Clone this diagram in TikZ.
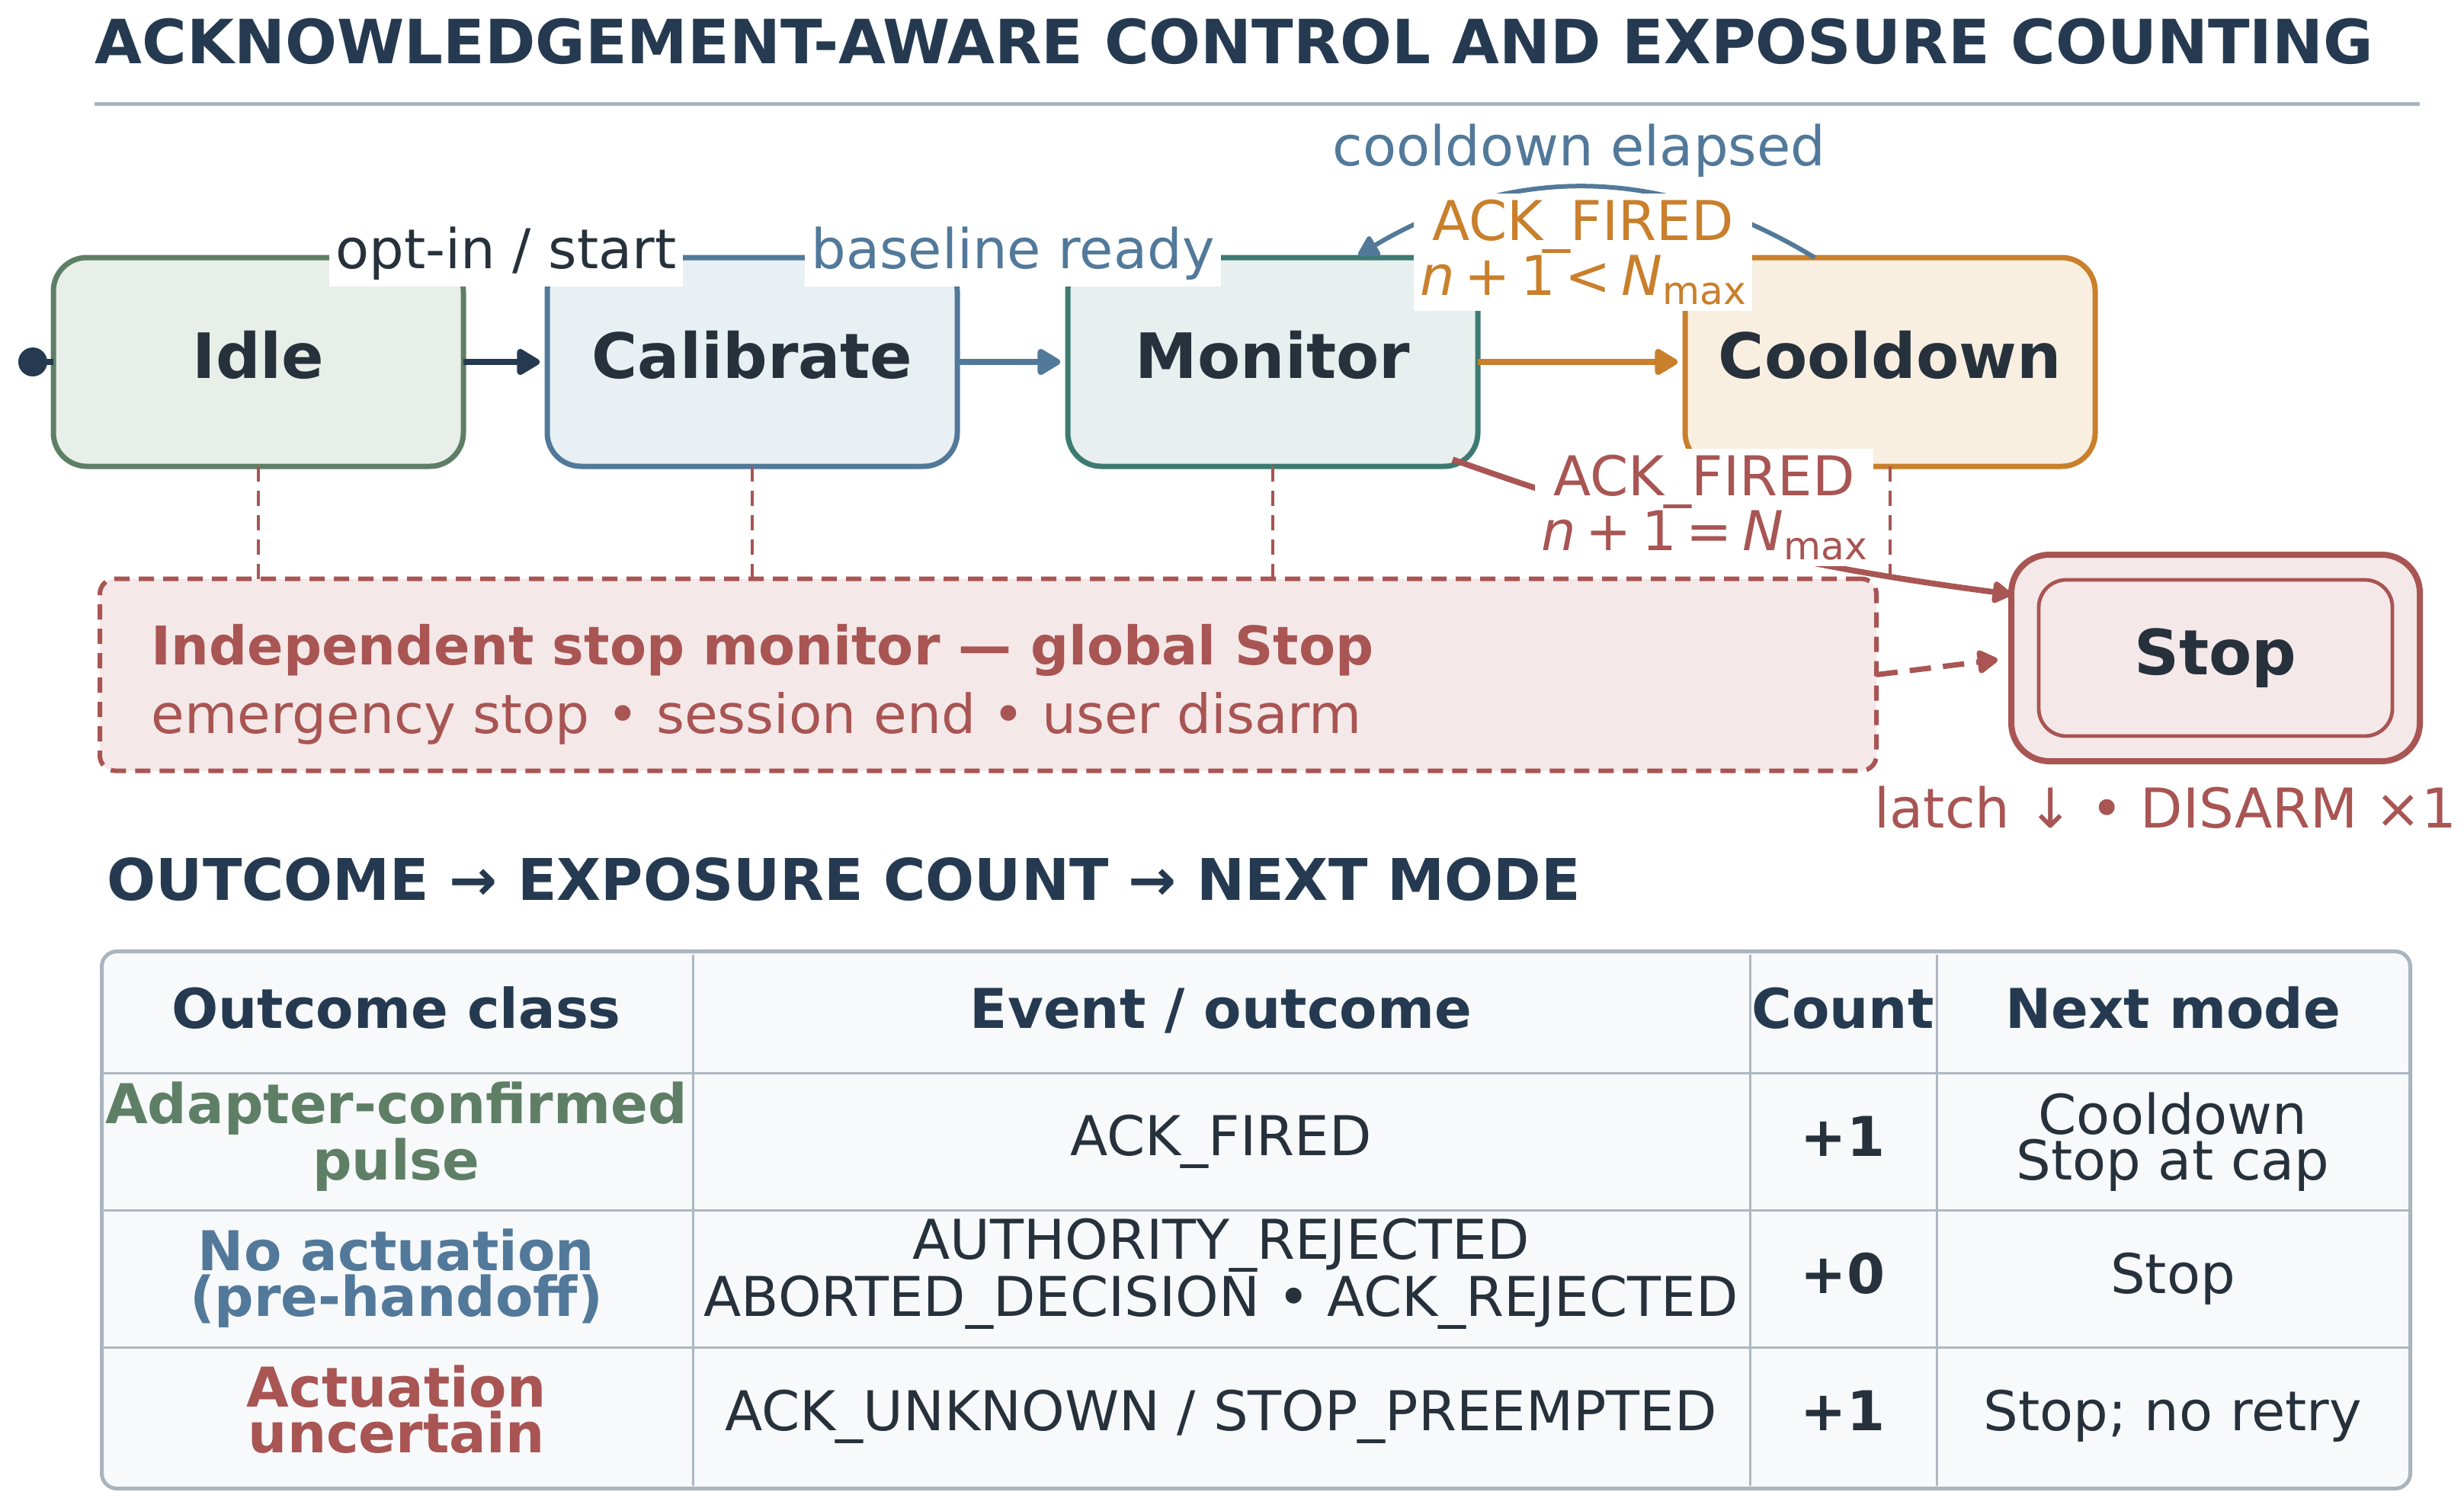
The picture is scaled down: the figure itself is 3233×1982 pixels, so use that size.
\documentclass[tikz,border=0pt]{standalone}
\usepackage{fontspec}
\setmainfont{DejaVu Sans}
\usetikzlibrary{arrows.meta,calc}
\definecolor{navy}{HTML}{253A50}
\definecolor{ink}{HTML}{27313C}
\definecolor{cgreen}{HTML}{5E7F65}
\definecolor{fgreen}{HTML}{E8EFE8}
\definecolor{cblue}{HTML}{52799A}
\definecolor{fblue}{HTML}{E8F0F4}
\definecolor{cteal}{HTML}{3D7B72}
\definecolor{fteal}{HTML}{E7F0EF}
\definecolor{corange}{HTML}{C97F2B}
\definecolor{forange}{HTML}{F9EFE1}
\definecolor{cred}{HTML}{A85553}
\definecolor{fred}{HTML}{F5E8E8}
\definecolor{rulegray}{HTML}{AAB4BE}
\definecolor{tblfill}{HTML}{F7F9FB}
\definecolor{tblline}{HTML}{AEB8C2}
\newcommand{\acklt}{\textit{n}\hspace{.18em}+\hspace{.18em}1\hspace{.18em}<\hspace{.18em}\textit{N}\raisebox{-3pt}{\fontsize{12.6}{12.6}\selectfont max}}
\newcommand{\ackeq}{\textit{n}\hspace{.18em}+\hspace{.18em}1\hspace{.18em}=\hspace{.18em}\textit{N}\raisebox{-3pt}{\fontsize{12.6}{12.6}\selectfont max}}
\begin{document}
\begin{tikzpicture}[x=0.25pt,y=-0.25pt,
  statebox/.style={draw, rounded corners=11pt, minimum width=134.5pt, minimum height=68.5pt,
    line width=1.75pt, outer sep=0pt, inner sep=0pt, text=ink, text height=15.6pt, text depth=4.7pt,
    font=\fontsize{20.5}{24}\selectfont\bfseries},
  lbl/.style={fill=white, inner sep=2pt, align=center, font=\fontsize{18}{18}\selectfont},
  arr/.style={line width=2.2pt, shorten >=2.5pt, -{Triangle[length=8.5pt,width=9.5pt,round]}},
  vdash/.style={cred, line width=0.8pt, dash pattern=on 5pt off 3pt},
  th/.style={anchor=base, inner sep=0pt, align=center, text=navy, font=\fontsize{18}{15}\selectfont\bfseries},
  tdb/.style={anchor=base, inner sep=0pt, align=center, font=\fontsize{18}{15}\selectfont\bfseries},
  td/.style={anchor=base, inner sep=0pt, align=center, text=ink, font=\fontsize{18}{15}\selectfont},
  trule/.style={tblline, line width=0.75pt}]
\useasboundingbox (0,0) rectangle (3233,1982);

% title
\node[anchor=base west, inner sep=0pt, text=navy, font=\fontsize{20}{24}\selectfont\bfseries] (title) at (124,83) {ACKNOWLEDGEMENT-AWARE CONTROL AND EXPOSURE COUNTING};
\coordinate (rl) at (124,136);
\coordinate (rr) at (3175,136);
\draw[rulegray, line width=1.25pt] (rl) -- (rr);

% states
\node[statebox, draw=cgreen, fill=fgreen] (idle) at (339,475) {Idle};
\node[statebox, draw=cblue, fill=fblue] (cal) at (987,475) {Calibrate};
\node[statebox, draw=cteal, fill=fteal] (moni) at (1670,475) {Monitor};
\node[statebox, draw=corange, fill=forange] (cool) at (2480,475) {Cooldown};

% independent stop monitor
\node[draw=cred, fill=fred, line width=1.5pt, dash pattern=on 5pt off 3pt, rounded corners=5pt,
  minimum width=582.75pt, minimum height=63pt, outer sep=0pt, inner sep=0pt] (mon) at (1296.5,885.5) {};
\node[anchor=base west, inner sep=0pt, text=cred, font=\fontsize{17.5}{21}\selectfont\bfseries] (mt1) at (198,872) {Independent stop monitor — global Stop};
\node[anchor=base west, inner sep=0pt, text=cred, font=\fontsize{17.75}{21}\selectfont] (mt2) at (198,962) {emergency stop • session end • user disarm};

% stop state
\node[draw=cred, fill=fred, line width=2pt, rounded corners=12.5pt, minimum width=134pt, minimum height=67.75pt,
  outer sep=0pt, inner sep=0pt, text=ink, text height=15.6pt, text depth=4.7pt,
  font=\fontsize{20.5}{24}\selectfont\bfseries] (stop) at (2907,863.5) {Stop};
\draw[cred, line width=1.2pt, rounded corners=9pt] ($(stop.north west)+(36,33)$) rectangle ($(stop.south east)+(-36,-33)$);

% dashed links to the stop monitor
\foreach \n in {idle,cal,moni,cool}
  \draw[vdash] (\n.south) -- (\n.south |- mon.north);

% start
\node[circle, fill=navy, inner sep=0pt, minimum size=9.5pt] (start) at (43,475) {};
\draw[navy, line width=2.2pt] (start.center) -- (idle.west);

% transitions
\draw[arr, navy] (idle.east) -- (cal.west);
\draw[arr, cblue] (cal.east) -- (moni.west);
\draw[arr, corange] (moni.east) -- (cool.west);

\coordinate (arcS) at ($(cool.north)+(-99,0)$);
\coordinate (arcE) at ($(moni.north)+(112,-3)$);
\draw[cblue, line width=1.5pt, -{Triangle[length=7.5pt,width=8pt,round]}] (arcS) to[bend right=31] (arcE);

\coordinate (ms) at ($(moni.south east)+(-33,-9)$);
\coordinate (me) at ($(stop.north west)+(0,52)$);
\draw[cred, line width=1.9pt, -{Triangle[length=7pt,width=8pt,round]}] (ms) to[bend right=6] (me);

\draw[cred, line width=1.75pt, dash pattern=on 7pt off 4pt, shorten >=4.5pt,
  -{Triangle[length=7.5pt,width=8.5pt,round]}] (mon.east) -- (stop.west);

% labels
\node[lbl, text=ink] (l1) at (664,333) {opt-in / start};
\node[lbl, text=cblue] (l2) at (1329,333) {baseline ready};
\node[lbl, text=corange] (l3) at (2077,331) {ACK\_FIRED\\\acklt};
\node[lbl, fill=none, text=cblue] (l4) at (2072,198) {cooldown elapsed};
\node[lbl, text=cred] (l5) at (2236,666) {ACK\_FIRED\\\ackeq};
\node[anchor=base west, inner sep=0pt, text=cred, font=\fontsize{18}{18}\selectfont] (latch) at (2459,1086) {latch ↓ • DISARM ×1};

% section heading
\node[anchor=base west, inner sep=0pt, text=navy, font=\fontsize{18.85}{23}\selectfont\bfseries] (sec) at (140,1181) {OUTCOME → EXPOSURE COUNT → NEXT MODE};

% table
\node[draw=rulegray, fill=tblfill, line width=1.25pt, rounded corners=5pt, minimum width=757.25pt,
  minimum height=176.25pt, outer sep=0pt, inner sep=0pt] (tbl) at (1648,1601) {};
\foreach \y in {1408,1588,1768}
  \draw[trule] (135,\y) -- (3160,\y);
\foreach \x in {909,2296,2541}
  \draw[trule] (\x,1253) -- (\x,1950);

\node[th] (h1) at (520,1349) {Outcome class};
\node[th] (h2) at (1602,1349) {Event / outcome};
\node[th] (h3) at (2418,1349) {Count};
\node[th] (h4) at (2851,1349) {Next mode};

\node[tdb, text=cgreen] (r1c1) at (520,1548) {Adapter-confirmed\\pulse};
\node[td] (r1c2) at (1602,1516) {ACK\_FIRED};
\node[tdb, text=ink] (r1c3) at (2418,1517) {+1};
\node[td] (r1c4) at (2851,1548) {Cooldown\\Stop at cap};

\node[tdb, text=cblue] (r2c1) at (520,1727) {No actuation\\(pre-handoff)};
\node[td] (r2c2) at (1602,1727) {AUTHORITY\_REJECTED\\ABORTED\_DECISION • ACK\_REJECTED};
\node[tdb, text=ink] (r2c3) at (2418,1697) {+0};
\node[td] (r2c4) at (2851,1697) {Stop};

\node[tdb, text=cred] (r3c1) at (520,1906) {Actuation\\uncertain};
\node[td] (r3c2) at (1602,1877) {ACK\_UNKNOWN / STOP\_PREEMPTED};
\node[tdb, text=ink] (r3c3) at (2418,1877) {+1};
\node[td] (r3c4) at (2851,1877) {Stop; no retry};
\end{tikzpicture}
\end{document}
